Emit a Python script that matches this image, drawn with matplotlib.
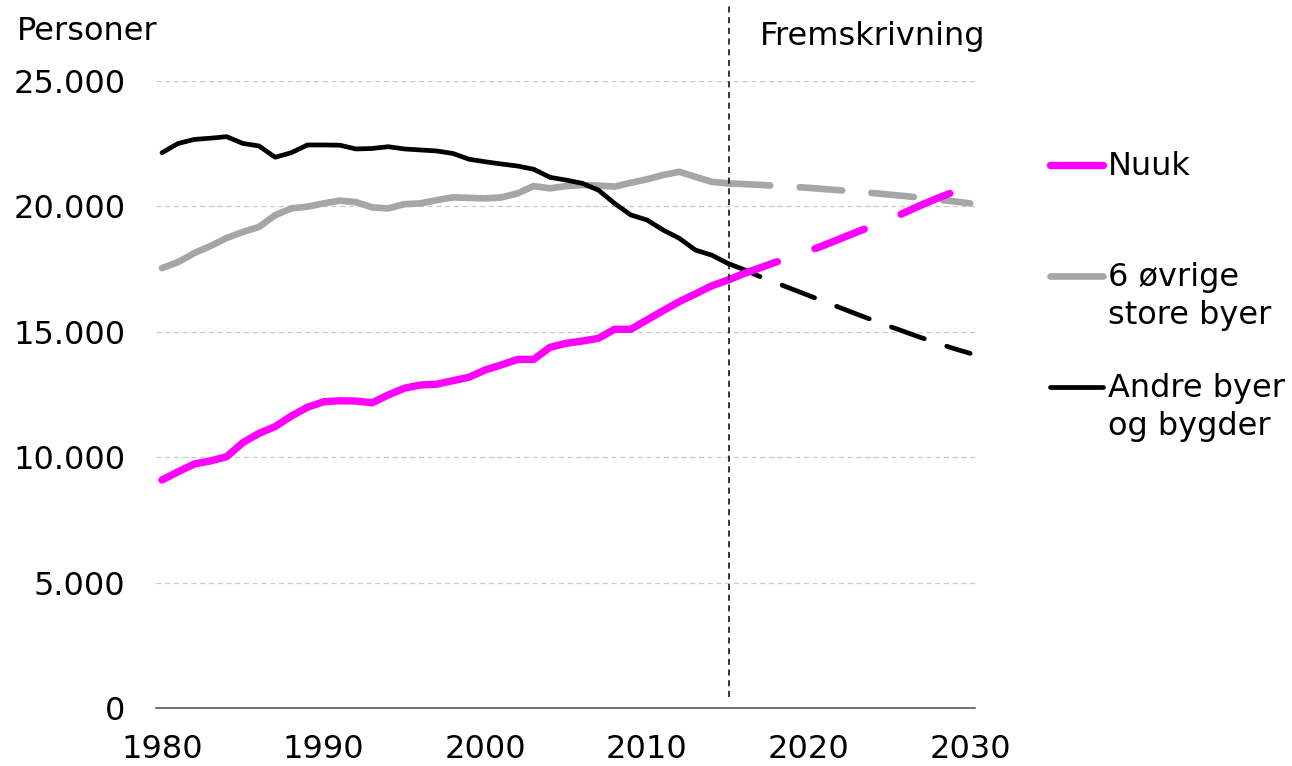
import matplotlib
matplotlib.use("Agg")
import matplotlib.pyplot as plt
from matplotlib.lines import Line2D
from matplotlib.ticker import FuncFormatter

# Befolkning 1980-2015 (observeret)
years = list(range(1980, 2016))
nuuk = [9090, 9420, 9730, 9850, 10020, 10580, 10950, 11220, 11640, 11990,
        12210, 12250, 12240, 12170, 12480, 12750, 12880, 12910, 13050, 13190,
        13480, 13680, 13900, 13900, 14380, 14540, 14630, 14740, 15100, 15100,
        15470, 15840, 16200, 16510, 16830, 17060]
byer6 = [17540, 17780, 18140, 18420, 18740, 18980, 19180, 19650, 19920, 19990,
         20120, 20230, 20170, 19960, 19920, 20090, 20120, 20250, 20360, 20340,
         20320, 20360, 20520, 20810, 20720, 20810, 20850, 20830, 20790, 20940,
         21080, 21250, 21380, 21180, 20980, 20920]
andre = [22140, 22510, 22670, 22720, 22780, 22510, 22410, 21960, 22140, 22450,
         22450, 22440, 22290, 22310, 22380, 22290, 22250, 22210, 22110, 21880,
         21780, 21690, 21610, 21480, 21160, 21050, 20920, 20650, 20120, 19660,
         19460, 19060, 18730, 18260, 18060, 17730]

# Fremskrivning 2015-2030
proj_years = list(range(2015, 2031))
nuuk_proj = [17060, 17320, 17550, 17780, 18000, 18220, 18460, 18720, 18980,
             19230, 19470, 19770, 20060, 20330, 20580, 20820]
byer6_proj = [20920, 20890, 20860, 20820, 20780, 20740, 20690, 20640, 20590,
              20530, 20470, 20410, 20340, 20270, 20200, 20120]
andre_proj = [17730, 17480, 17200, 16950, 16700, 16450, 16200, 15950, 15700,
              15460, 15220, 14990, 14760, 14540, 14330, 14140]

labels = ["Nuuk", "6 øvrige\nstore byer", "Andre byer\nog bygder"]
colors = ["#FF00FF", "#A6A6A6", "#000000"]

plt.rcParams['font.family'] = ['DejaVu Sans']
fs = 23

fig = plt.figure(figsize=(12.92, 7.66), dpi=100)
ax = fig.add_axes([156 / 1292, 1 - 708 / 766, (975 - 156) / 1292, (708 - 81) / 766])

ax.plot(years, andre, color=colors[2], lw=3.4, solid_capstyle='round', zorder=3)
ax.plot(proj_years, andre_proj, color=colors[2], lw=3.4, dash_capstyle='round',
        dashes=(7.4, 5), zorder=3)
ax.plot(years, byer6, color=colors[1], lw=4.8, solid_capstyle='round', zorder=2)
ax.plot(proj_years, byer6_proj, color=colors[1], lw=4.8, dash_capstyle='round',
        dashes=(6.4, 4.4), zorder=2)
ax.plot(years, nuuk, color=colors[0], lw=5.3, solid_capstyle='round', zorder=4)
ax.plot(proj_years, nuuk_proj, color=colors[0], lw=5.3, dash_capstyle='round',
        dashes=(7.2, 5.4), zorder=4)

ax.set_xlim(1979.63, 2030.3)
ax.set_ylim(0, 25000)
ax.set_xticks([1980, 1990, 2000, 2010, 2020, 2030])
ax.set_yticks([0, 5000, 10000, 15000, 20000, 25000])
ax.yaxis.set_major_formatter(FuncFormatter(lambda v, p: f"{int(v):,}".replace(",", ".")))
ax.tick_params(axis='both', length=0, labelsize=fs)
ax.tick_params(axis='y', pad=22)
ax.tick_params(axis='x', pad=19)
ax.grid(axis='y', color='#C8C8C8', linestyle=(0, (4, 3)), lw=0.9)
for s in ['top', 'right', 'left']:
    ax.spines[s].set_visible(False)
ax.spines['bottom'].set_color('#595959')
ax.spines['bottom'].set_linewidth(1.2)

# Fremskrivning-markering
ax.axvline(2015.1, ymin=0.0175, ymax=1.124, color='black', lw=1.1,
           linestyle=(0, (4, 3)), clip_on=False, zorder=5)
fig.text(760 / 1292, 1 - 36 / 766, "Fremskrivning", fontsize=fs, va='center', ha='left')
fig.text(17 / 1292, 1 - 32 / 766, "Personer", fontsize=fs, va='center', ha='left')

# Forklaring
leg_y = [165, 276, 387]
for lab, col, y, lw in zip(labels, colors, leg_y, [5.3, 4.8, 3.4]):
    fig.add_artist(Line2D([1050 / 1292, 1103 / 1292], [1 - y / 766, 1 - y / 766],
                          color=col, lw=lw, solid_capstyle='round',
                          transform=fig.transFigure))
    fig.text(1108 / 1292, 1 - (y - 14) / 766, lab, fontsize=fs, va='top', ha='left',
             linespacing=1.3)

fig.savefig("out.png", dpi=100)
